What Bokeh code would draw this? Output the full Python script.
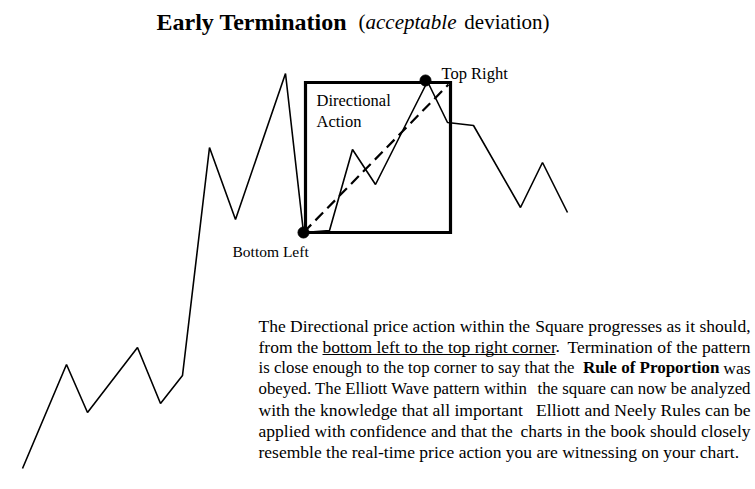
from bokeh.plotting import figure
from bokeh.models import Range1d
from bokeh.core.properties import value
from bokeh.embed import file_html
from bokeh.resources import INLINE

# price path (time, price)
time = [22, 66, 87, 137, 160, 182, 209, 235, 285, 303, 329, 352, 375, 427, 447, 473, 520, 542, 567]
price = [21, 125, 77, 142, 86, 114, 342, 270, 416, 257, 259, 340, 305, 408, 367, 364, 282, 327, 277]

# the square (time / price bounds)
sq_left, sq_right = 305, 450
sq_bottom, sq_top = 257, 407

# marked points
pt_time = [303, 425]
pt_price = [257, 409]
pt_labels = ["Bottom Left", "Top Right"]

SERIF = "Liberation Serif"

p = figure(width=755, height=489, output_backend="svg", toolbar_location=None,
           x_range=Range1d(0, 755), y_range=Range1d(0, 489), min_border=0)
p.axis.visible = False
p.grid.visible = False
p.outline_line_color = None
p.background_fill_color = "white"
p.border_fill_color = "white"

# price line
p.line(time, price, line_color="black", line_width=1.6)

# square
p.line([sq_left, sq_right, sq_right, sq_left, sq_left],
       [sq_bottom, sq_bottom, sq_top, sq_top, sq_bottom],
       line_color="black", line_width=3.2, line_join="miter")

# dashed diagonal
p.line([pt_time[0], sq_right - 2], [pt_price[0], sq_top - 2],
       line_color="black", line_width=2.2, line_dash="11 6")

# dots
p.scatter(pt_time, pt_price, size=11, fill_color="black", line_color="black")

def txt(x, y, s, size=17.5, style="normal", align="left"):
    p.text(x=[x], y=[y], text=[s], text_font=value(SERIF),
           text_font_size=f"{size}px", text_font_style=style,
           text_align=align, text_baseline="alphabetic", text_color="black")

# labels
txt(232, 238, pt_labels[0], 15.5)
txt(441, 416, pt_labels[1], 16.5)
txt(316, 389, "Directional", 16.5)
txt(316, 368, "Action", 16.5)

# title
txt(156, 468, "Early Termination", 24, "bold")
txt(358, 468, "(", 21)
txt(365, 468, "acceptable", 21, "italic")
txt(549, 468, "deviation)", 21, align="right")

# paragraph
L, R = 258, 750
base = [164, 143, 122, 101, 80, 59, 38]
txt(L, base[0], "The Directional price action within the", 17.5)
txt(R, base[0], "Square progresses as it should,", 17.5, align="right")
txt(L, base[1], "from the", 17.5)
txt(322, base[1], "bottom left to the top right corner", 17.5)
p.line([322, 555], [base[1] - 8, base[1] - 8], line_color="black", line_width=1)
txt(555, base[1], ".", 17.5)
txt(R, base[1], "Termination of the pattern", 17.5, align="right")
txt(L, base[2], "is close enough to the top corner to say that the", 16.8)
txt(719, base[2], "Rule of Proportion", 17, "bold", align="right")
txt(R, base[2], "was", 17.5, align="right")
txt(L, base[3], "obeyed. The Elliott Wave pattern within", 16.8)
txt(R, base[3], "the square can now be analyzed", 16.8, align="right")
txt(L, base[4], "with the knowledge that all important", 17.6)
txt(R, base[4], "Elliott and Neely Rules can be", 17.6, align="right")
txt(L, base[5], "applied with confidence and that the", 17.5)
txt(R, base[5], "charts in the book should closely", 17.5, align="right")
txt(L, base[6], "resemble the real-time price action you are witnessing on your chart.", 17.5)

open("out.html", "w").write(file_html(p, INLINE))
